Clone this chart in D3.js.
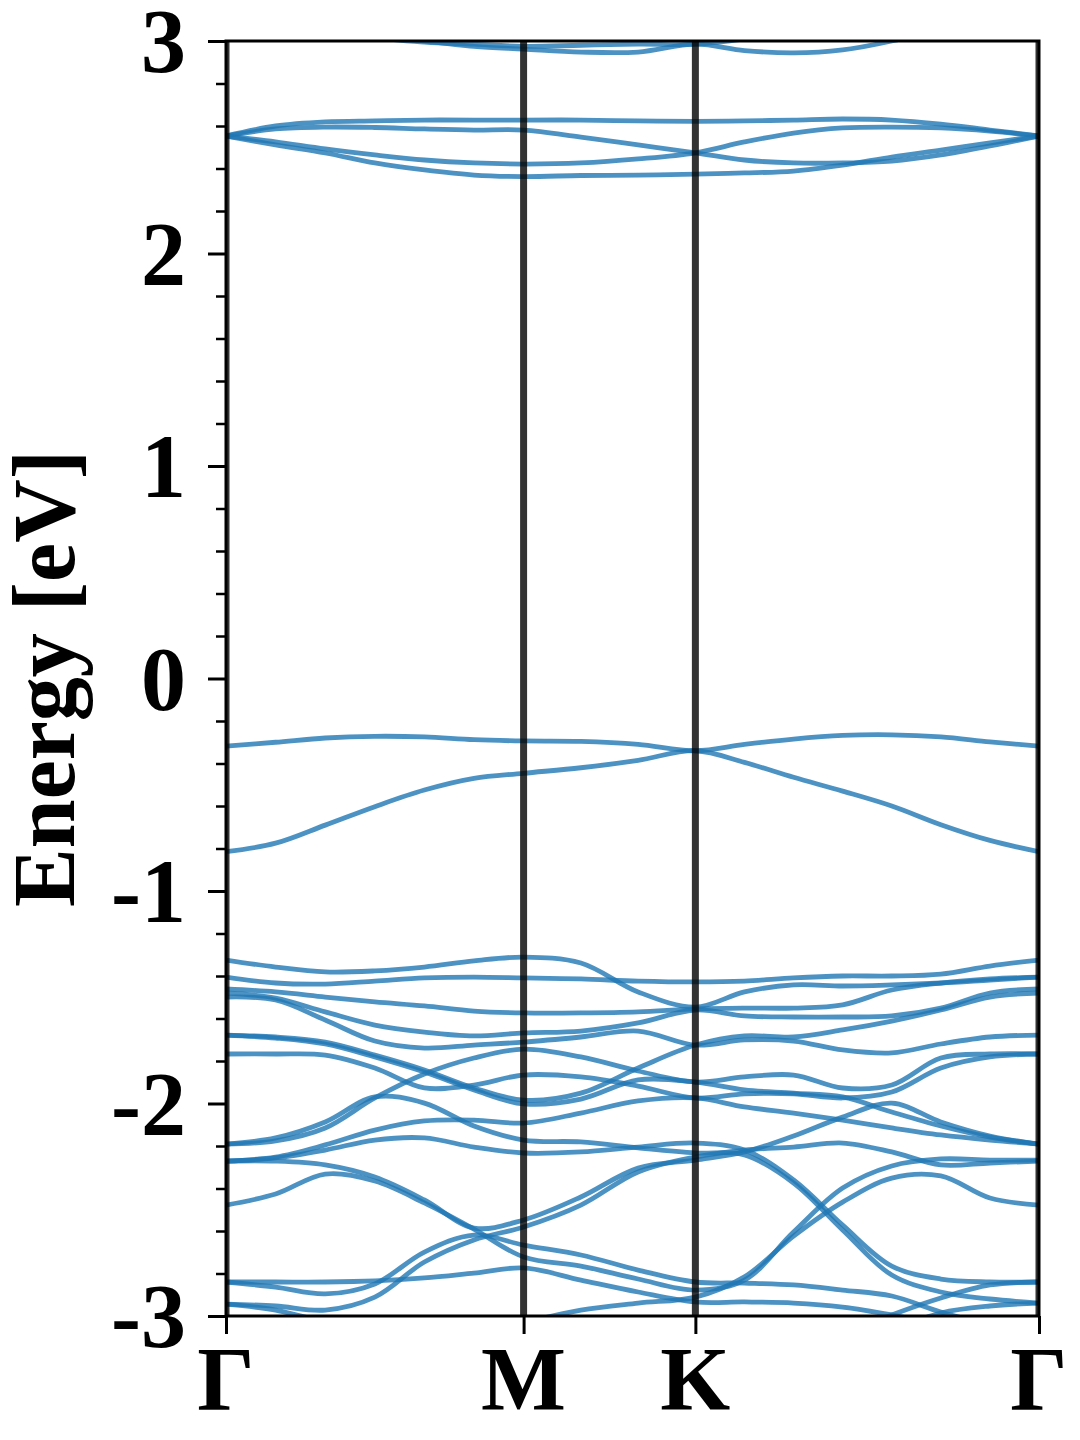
<!DOCTYPE html>
<html><head><meta charset="utf-8">
<script src="https://cdn.jsdelivr.net/npm/d3@7"></script>
<style>body{margin:0;background:#fff;} svg{display:block;}</style>
</head><body><svg id="chart" width="1080" height="1440"></svg>
<script>
// k-path sample positions (Γ–M–K–Γ, hexagonal path lengths)
const kPoints = [0, 0.0962, 0.1925, 0.2887, 0.3849, 0.4811, 0.5774, 0.6885, 0.7996, 0.9107, 1.0059, 1.1012, 1.1964, 1.2917, 1.3869, 1.4822, 1.5774];
const symPoints = [0, 0.5774, 0.9107, 1.5774];
const symLabels = ["Γ", "M", "K", "Γ"];
const yTicks = [-3, -2, -1, 0, 1, 2, 3];

// bands (energies in eV at kPoints)
const bandT1 = [3.25, 3.18, 3.10, 3.02, 2.995, 2.985, 2.975, 2.98, 2.985, 2.985, 3.01, 3.05, 3.10, 3.15, 3.20, 3.25, 3.28];
const bandT2 = [3.30, 3.22, 3.13, 3.03, 3.00, 2.975, 2.962, 2.948, 2.948, 2.985, 2.955, 2.944, 2.958, 3.00, 3.06, 3.15, 3.20];
const bandC1 = [2.553, 2.600, 2.619, 2.624, 2.628, 2.628, 2.628, 2.628, 2.624, 2.622, 2.624, 2.628, 2.633, 2.628, 2.609, 2.581, 2.553];
const bandC2 = [2.553, 2.586, 2.595, 2.593, 2.586, 2.581, 2.581, 2.548, 2.511, 2.474, 2.440, 2.426, 2.426, 2.435, 2.464, 2.506, 2.553];
const bandC3 = [2.553, 2.525, 2.492, 2.464, 2.440, 2.426, 2.421, 2.426, 2.445, 2.474, 2.525, 2.567, 2.591, 2.595, 2.591, 2.576, 2.553];
const bandC4 = [2.553, 2.511, 2.473, 2.426, 2.393, 2.369, 2.362, 2.367, 2.369, 2.374, 2.379, 2.388, 2.416, 2.454, 2.487, 2.520, 2.553];
const bandV1 = [-0.318, -0.300, -0.280, -0.272, -0.275, -0.288, -0.294, -0.296, -0.310, -0.340, -0.310, -0.285, -0.268, -0.265, -0.275, -0.298, -0.318];
const bandV2 = [-0.815, -0.775, -0.690, -0.603, -0.525, -0.470, -0.446, -0.420, -0.385, -0.340, -0.395, -0.465, -0.530, -0.600, -0.688, -0.762, -0.815];
const bandA = [-1.325, -1.358, -1.381, -1.376, -1.358, -1.329, -1.311, -1.339, -1.475, -1.546, -1.475, -1.442, -1.447, -1.442, -1.433, -1.419, -1.405];
const bandB = [-1.405, -1.433, -1.438, -1.424, -1.409, -1.405, -1.409, -1.414, -1.424, -1.428, -1.424, -1.409, -1.400, -1.400, -1.391, -1.353, -1.325];
const bandCc = [-1.461, -1.475, -1.499, -1.522, -1.541, -1.565, -1.574, -1.574, -1.569, -1.555, -1.551, -1.551, -1.536, -1.466, -1.433, -1.414, -1.405];
const bandD = [-1.480, -1.504, -1.569, -1.631, -1.664, -1.682, -1.668, -1.659, -1.621, -1.560, -1.588, -1.593, -1.593, -1.588, -1.551, -1.480, -1.461];
const bandE = [-1.499, -1.513, -1.607, -1.706, -1.739, -1.725, -1.711, -1.687, -1.659, -1.725, -1.701, -1.706, -1.748, -1.762, -1.720, -1.687, -1.678];
const bandF = [-1.678, -1.687, -1.711, -1.772, -1.842, -1.927, -1.984, -1.951, -1.833, -1.725, -1.682, -1.687, -1.654, -1.612, -1.560, -1.499, -1.480];
const bandF2 = [-1.678, -1.692, -1.720, -1.781, -1.852, -1.936, -2.002, -1.979, -1.889, -1.899, -1.936, -1.951, -1.969, -2.040, -2.106, -2.158, -2.191];
const bandG = [-1.767, -1.767, -1.772, -1.833, -1.927, -1.913, -1.866, -1.875, -1.918, -1.974, -1.955, -1.955, -1.974, -1.946, -1.833, -1.781, -1.767];
const bandR = [-2.191, -2.176, -2.115, -1.974, -1.861, -1.786, -1.744, -1.781, -1.847, -1.899, -1.875, -1.866, -1.927, -1.913, -1.786, -1.767, -1.767];
const bandH = [-2.271, -2.252, -2.195, -2.125, -2.082, -2.078, -2.092, -2.045, -1.988, -1.974, -2.016, -2.045, -2.078, -2.115, -2.148, -2.172, -2.191];
const bandI = [-2.271, -2.256, -2.219, -2.172, -2.162, -2.205, -2.233, -2.228, -2.205, -2.186, -2.219, -2.360, -2.572, -2.765, -2.826, -2.840, -2.840];
const bandP = [-2.191, -2.162, -2.087, -1.969, -1.998, -2.106, -2.172, -2.181, -2.209, -2.233, -2.242, -2.374, -2.595, -2.807, -2.887, -2.920, -2.939];
const bandVv = [-2.271, -2.271, -2.289, -2.346, -2.454, -2.586, -2.548, -2.440, -2.304, -2.266, -2.228, -2.153, -2.064, -1.998, -2.087, -2.153, -2.191];
const bandL1 = [-2.944, -2.953, -2.972, -2.911, -2.746, -2.642, -2.581, -2.478, -2.322, -2.252, -2.219, -2.205, -2.186, -2.228, -2.289, -2.280, -2.271];
const bandJ = [-2.478, -2.426, -2.332, -2.365, -2.468, -2.591, -2.722, -2.765, -2.826, -2.878, -2.831, -2.605, -2.398, -2.294, -2.261, -2.266, -2.266];
const bandK2 = [-2.840, -2.864, -2.896, -2.849, -2.699, -2.619, -2.666, -2.713, -2.784, -2.840, -2.845, -2.854, -2.878, -2.906, -2.981, -3.042, -3.089];
const bandK1 = [-2.840, -2.840, -2.840, -2.835, -2.821, -2.798, -2.774, -2.831, -2.887, -2.934, -2.934, -2.939, -2.958, -2.995, -3.042, -3.089, -3.113];
const bandL2 = [-2.944, -2.972, -3.028, -3.066, -3.066, -3.050, -3.028, -2.972, -2.939, -2.911, -2.816, -2.624, -2.464, -2.351, -2.341, -2.445, -2.478];
const bandB1 = [-3.20, -3.20, -3.20, -3.20, -3.20, -3.20, -3.20, -3.20, -3.20, -3.20, -3.18, -3.15, -3.089, -2.995, -2.915, -2.854, -2.840];
const bandB2 = [-3.25, -3.25, -3.25, -3.25, -3.25, -3.25, -3.25, -3.25, -3.25, -3.25, -3.25, -3.22, -3.15, -3.066, -2.986, -2.953, -2.939];

const bands = [bandT1, bandT2, bandC1, bandC2, bandC3, bandC4, bandV1, bandV2,
  bandA, bandB, bandCc, bandD, bandE, bandF, bandF2, bandG, bandR, bandH, bandI, bandP,
  bandVv, bandL1, bandJ, bandK2, bandK1, bandL2, bandB1, bandB2];

const W = 1080, H = 1440;
const plot = {left: 226, right: 1039, top: 41, bottom: 1316};
const FONT = "'Liberation Serif','Times New Roman',serif";

const x = d3.scaleLinear().domain([0, 1.5774]).range([plot.left, plot.right]);
const y = d3.scaleLinear().domain([-3, 3]).range([plot.bottom, plot.top]);

const svg = d3.select("#chart");
svg.append("rect").attr("width", W).attr("height", H).attr("fill", "#fff");
svg.append("defs").append("clipPath").attr("id", "clip").append("rect")
  .attr("x", plot.left).attr("y", plot.top)
  .attr("width", plot.right - plot.left).attr("height", plot.bottom - plot.top);

const line = d3.line()
  .x((d, i) => x(kPoints[i]))
  .y(d => y(d))
  .curve(d3.curveCatmullRom.alpha(0.5));

const gBands = svg.append("g").attr("clip-path", "url(#clip)");
bands.forEach(b => {
  gBands.append("path").attr("d", line(b))
    .attr("fill", "none").attr("stroke", "#1f77b4")
    .attr("stroke-opacity", 0.8).attr("stroke-width", 4.8);
});

const gSym = svg.append("g").attr("clip-path", "url(#clip)");
symPoints.forEach(k => {
  gSym.append("line")
    .attr("x1", x(k)).attr("x2", x(k)).attr("y1", plot.top).attr("y2", plot.bottom)
    .attr("stroke", "#000").attr("stroke-opacity", 0.8).attr("stroke-width", 7);
});

// frame
svg.append("rect").attr("x", plot.left).attr("y", plot.top)
  .attr("width", plot.right - plot.left).attr("height", plot.bottom - plot.top)
  .attr("fill", "none").attr("stroke", "#000").attr("stroke-width", 3);

// y axis major
const yAxis = svg.append("g").attr("transform", `translate(${plot.left},0)`)
  .call(d3.axisLeft(y).tickValues(yTicks).tickSize(18).tickPadding(22).tickFormat(d => String(d)));
yAxis.select(".domain").remove();
yAxis.selectAll(".tick line").attr("stroke", "#000").attr("stroke-width", 3);
yAxis.selectAll(".tick text").attr("font-family", FONT).attr("font-weight", "bold")
  .attr("font-size", 90).attr("fill", "#000").attr("dy", "0.34em");

// y axis minor
const minorTicks = d3.range(-3, 3.001, 0.2).map(v => +v.toFixed(1)).filter(v => Math.abs(v - Math.round(v)) > 1e-6);
const yMinor = svg.append("g").attr("transform", `translate(${plot.left},0)`)
  .call(d3.axisLeft(y).tickValues(minorTicks).tickSize(10).tickFormat(""));
yMinor.select(".domain").remove();
yMinor.selectAll(".tick line").attr("stroke", "#000").attr("stroke-width", 2.5);

// x axis
const xAxis = svg.append("g").attr("transform", `translate(0,${plot.bottom})`)
  .call(d3.axisBottom(x).tickValues(symPoints).tickSize(18).tickFormat(""));
xAxis.select(".domain").remove();
xAxis.selectAll(".tick line").attr("stroke", "#000").attr("stroke-width", 3);

svg.append("g").selectAll("text").data(symPoints).join("text")
  .attr("x", d => x(d)).attr("y", 1410)
  .attr("text-anchor", "middle")
  .attr("font-family", FONT).attr("font-weight", "bold").attr("font-size", 90).attr("fill", "#000")
  .text((d, i) => symLabels[i]);

// y label
svg.append("text")
  .attr("transform", `translate(74,${(plot.top + plot.bottom) / 2}) rotate(-90)`)
  .attr("text-anchor", "middle")
  .attr("font-family", FONT).attr("font-weight", "bold").attr("font-size", 88).attr("fill", "#000")
  .text("Energy [eV]");
</script>
</body></html>
